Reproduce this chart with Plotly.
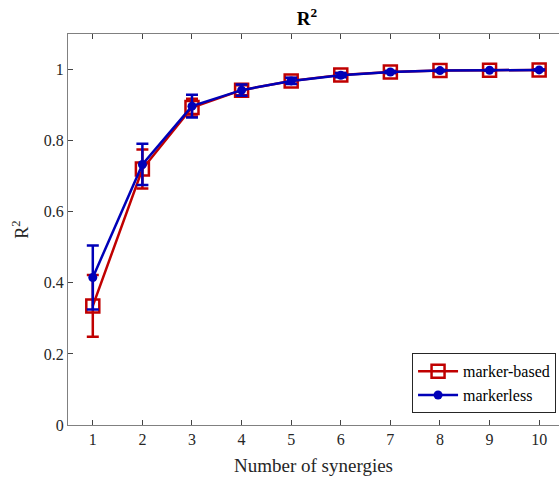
import plotly.graph_objects as go

synergies = [1, 2, 3, 4, 5, 6, 7, 8, 9, 10]
marker_based = [0.335, 0.72, 0.893, 0.942, 0.968, 0.985, 0.993, 0.997, 0.998, 0.999]
marker_based_err = [0.087, 0.055, 0.025, 0.014, 0.008, 0.005, 0.003, 0.002, 0.001, 0.001]
markerless = [0.415, 0.733, 0.897, 0.942, 0.968, 0.984, 0.993, 0.997, 0.998, 0.999]
markerless_err = [0.09, 0.058, 0.032, 0.016, 0.009, 0.006, 0.003, 0.002, 0.001, 0.001]
x_ticks = [1, 2, 3, 4, 5, 6, 7, 8, 9, 10]
y_ticks = [0, 0.2, 0.4, 0.6, 0.8, 1]
y_tick_labels = ["0", "0.2", "0.4", "0.6", "0.8", "1"]

RED = "#C00000"
BLUE = "#0000B8"
FONT = "Liberation Serif, Times New Roman, serif"

fig = go.Figure()
fig.add_trace(go.Scatter(
    x=synergies, y=marker_based, name="marker-based", mode="lines+markers",
    line=dict(color=RED, width=2.5),
    marker=dict(symbol="square-open", size=13, color=RED, line=dict(width=2.5, color=RED)),
    error_y=dict(type="data", array=marker_based_err, color=RED, thickness=2.5, width=6),
))
fig.add_trace(go.Scatter(
    x=synergies, y=markerless, name="markerless", mode="lines+markers",
    line=dict(color=BLUE, width=2.5),
    marker=dict(symbol="circle", size=9, color=BLUE),
    error_y=dict(type="data", array=markerless_err, color=BLUE, thickness=2.5, width=6),
))

fig.update_layout(
    width=559, height=484, autosize=False,
    margin=dict(l=68, r=0, t=34, b=59),
    paper_bgcolor="white", plot_bgcolor="white",
    font=dict(family=FONT, size=16, color="#262626"),
    title=dict(text="<b>R<sup>2</sup></b>", x=0.549, xanchor="center", y=0.975, yanchor="top",
               font=dict(family=FONT, size=19, color="#000000")),
    xaxis=dict(range=[0.5, 10.4], tickvals=x_ticks, ticks="inside", ticklen=5,
               showline=True, linecolor="#808080", linewidth=1, mirror="ticks",
               showgrid=False, zeroline=False, tickfont=dict(size=16),
               title=dict(text="Number of synergies", font=dict(size=19), standoff=11)),
    yaxis=dict(range=[0, 1.1], tickvals=y_ticks, ticktext=y_tick_labels, ticks="inside", ticklen=5,
               showline=True, linecolor="#808080", linewidth=1, mirror=False,
               showgrid=False, zeroline=False, tickfont=dict(size=16),
               title=dict(text="R<sup>2</sup>", font=dict(size=18), standoff=10)),
    legend=dict(x=0.994, xanchor="right", y=0.03, yanchor="bottom",
                bgcolor="white", bordercolor="#262626", borderwidth=1,
                font=dict(size=16, color="#000000"), tracegroupgap=0, itemwidth=40),
    showlegend=True,
)

fig.write_html(
    "out.html",
    config={"displayModeBar": False},
    post_script="document.body.style.margin='0';document.body.style.overflow='hidden';",
)
